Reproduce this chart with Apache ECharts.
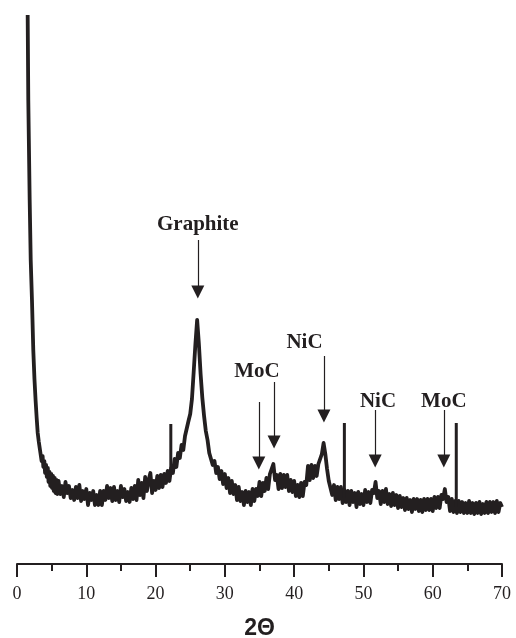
<!DOCTYPE html>
<html>
<head>
<meta charset="utf-8">
<script src="https://cdn.jsdelivr.net/npm/echarts@6/dist/echarts.min.js"></script>
<style>
  html, body { margin: 0; padding: 0; background: #fff; }
  #chart { width: 516px; height: 638px; }
</style>
</head>
<body>
<div id="chart"></div>
<script>
// XRD scan, intensity in arbitrary units
var ink = '#231f20';

// steep low-angle part
var leadTheta = [1.54, 1.63, 1.83, 1.98, 2.16, 2.35, 2.52, 2.68, 2.84, 2.99, 3.15, 3.32, 3.45, 3.55, 3.7, 3.8,
                 3.95, 4.05, 4.2, 4.3, 4.45, 4.55, 4.7, 4.8, 4.95, 5.05, 5.2, 5.3, 5.45, 5.55, 5.7, 5.8];
var leadCounts = [549, 464, 364, 304, 264, 214, 185, 164, 146, 131, 122, 114, 114, 103, 108, 97,
                  103, 91, 99, 87, 96, 82, 92, 78, 90, 76, 88, 73, 86, 71, 84, 70];

// rest of the scan, every 0.25 deg from 6 to 70
var scanStart = 6, scanStep = 0.25;
var scanCounts = [
  83, 70, 78, 67,     // 6
  82, 71, 78, 66,     // 7
  74, 64, 77, 66,     // 8
  79, 63, 73, 65,     // 9
  75, 59, 71, 64,     // 10
  73, 59, 69, 59,     // 11
  73, 59, 73, 64,     // 12
  78, 66, 76, 63,     // 13
  77, 64, 73, 62,     // 14
  78, 67, 75, 63,     // 15
  72, 62, 76, 65,     // 16
  78, 64, 84, 69,     // 17
  81, 66, 87, 73,     // 18
  84, 91, 71, 83,     // 19
  74, 88, 76, 89,     // 20
  77, 90, 81, 93,     // 21
  83, 96, 91, 105,    // 22
  97, 111, 106, 119,  // 23
  114, 128, 128, 143, // 24
  150, 165, 192, 220, // 25
  244, 220, 190, 166, // 26
  148, 133, 124, 111, // 27
  111, 99, 103, 91,   // 28
  97, 85, 93, 80,     // 29
  90, 76, 86, 71,     // 30
  83, 70, 79, 64,     // 31
  77, 63, 72, 59,     // 32
  73, 62, 72, 59,     // 33
  75, 63, 75, 68,     // 34
  82, 68, 81, 73,     // 35
  86, 75, 90, 92,     // 36
  100, 84, 89, 75,    // 37
  90, 76, 89, 77,     // 38
  89, 73, 84, 72,     // 39
  83, 68, 79, 67,     // 40
  81, 68, 82, 79,     // 41
  98, 84, 99, 86,     // 42
  98, 88, 100, 100,   // 43
  110, 121, 110, 95,  // 44
  83, 82, 69, 79,     // 45
  64, 77, 65, 77,     // 46
  61, 74, 62, 73,     // 47
  59, 73, 62, 71,     // 48
  57, 72, 60, 70,     // 49
  59, 74, 62, 72,     // 50
  61, 74, 71, 82,     // 51
  66, 73, 60, 73,     // 52
  62, 75, 60, 70,     // 53
  58, 71, 59, 69,     // 54
  56, 68, 57, 66,     // 55
  54, 66, 55, 64,     // 56
  52, 65, 55, 65,     // 57
  53, 64, 52, 65,     // 58
  54, 65, 54, 65,     // 59
  53, 67, 56, 67,     // 60
  56, 69, 65, 75,     // 61
  62, 67, 53, 65,     // 62
  52, 63, 51, 63,     // 63
  52, 62, 51, 61,     // 64
  51, 63, 51, 61,     // 65
  50, 61, 51, 62,     // 66
  50, 60, 51, 62,     // 67
  51, 62, 52, 62,     // 68
  51, 63, 52, 61,     // 69
  57                  // 70
];

// sharp single-channel spikes
var spikeTheta = [22.2, 47.25, 63.4];
var spikeBase = [90, 66, 57];
var spikeTop = [140, 141, 141];

// peak markers
var arrowTheta = [26.1, 34.9, 37.1, 44.3, 51.7, 61.6];
var arrowTop = [324, 162, 182, 208, 154, 154];
var arrowEnd = [272, 101, 122, 148, 103, 103];

var peakNames = ['Graphite', 'MoC', 'NiC', 'NiC', 'MoC'];
var nameTheta = [26.1, 34.63, 41.5, 52.1, 61.6];
var nameLevel = [339, 192, 221, 162, 162];

var chart = echarts.init(document.getElementById('chart'));

var scan = [];
for (var i = 0; i < leadTheta.length; i++) scan.push([leadTheta[i], leadCounts[i]]);
for (var j = 0; j < scanCounts.length; j++) scan.push([scanStart + j * scanStep, scanCounts[j]]);

var series = [{
  type: 'line',
  data: scan,
  showSymbol: false,
  lineStyle: { color: ink, width: 3.8, join: 'round' },
  markLine: {
    silent: true,
    symbol: ['none', 'triangle'],
    symbolSize: 13,
    lineStyle: { color: ink, width: 1.2, type: 'solid' },
    label: { show: false },
    itemStyle: { color: ink },
    data: arrowTheta.map(function (t, k) {
      return [{ coord: [t, arrowTop[k]] }, { coord: [t, arrowEnd[k]] }];
    })
  },
  markPoint: {
    silent: true,
    symbol: 'circle',
    symbolSize: 0,
    label: {
      show: true,
      position: 'inside',
      formatter: '{b}',
      color: ink,
      fontFamily: 'Liberation Serif',
      fontWeight: 'bold',
      fontSize: 21
    },
    data: peakNames.map(function (n, k) {
      return { name: n, coord: [nameTheta[k], nameLevel[k]] };
    })
  }
}];

spikeTheta.forEach(function (t, k) {
  series.push({
    type: 'line',
    data: [[t, spikeBase[k]], [t, spikeTop[k]]],
    showSymbol: false,
    lineStyle: { color: ink, width: 3 }
  });
});

chart.setOption({
  animation: false,
  backgroundColor: '#fff',
  grid: { left: 17, right: 14, top: 15, bottom: 74, containLabel: false, outerBoundsMode: 'none' },
  xAxis: {
    type: 'value',
    min: 0,
    max: 70,
    interval: 10,
    name: '2Θ',
    nameLocation: 'middle',
    nameGap: 53,
    nameTextStyle: { fontFamily: 'Liberation Sans', fontWeight: 'bold', fontSize: 23, color: ink },
    axisLine: { show: true, onZero: false, lineStyle: { color: ink, width: 2 } },
    axisTick: { show: true, inside: false, length: 13, lineStyle: { color: ink, width: 2 } },
    minorTick: { show: true, splitNumber: 2, length: 7, lineStyle: { color: ink, width: 2 } },
    axisLabel: { margin: 21, fontFamily: 'Liberation Serif', fontSize: 18, color: ink },
    splitLine: { show: false }
  },
  yAxis: {
    type: 'value',
    min: 0,
    max: 549,
    show: false,
    splitLine: { show: false }
  },
  series: series
});
</script>
</body>
</html>
